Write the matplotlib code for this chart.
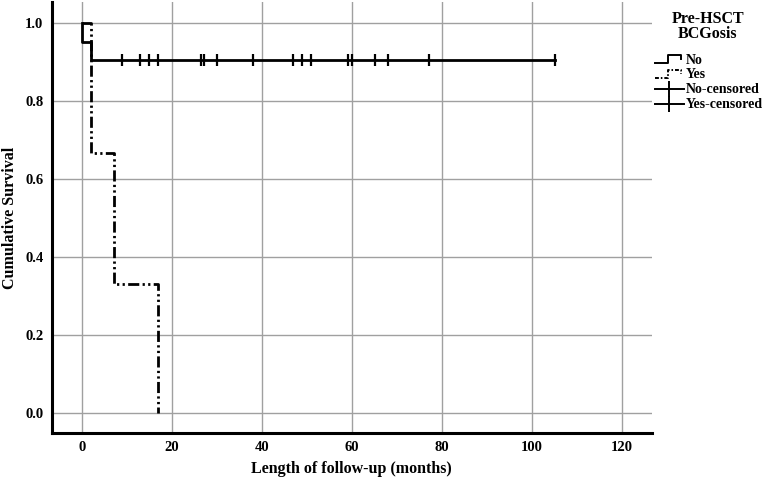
import matplotlib
matplotlib.use("Agg")
import matplotlib.pyplot as plt
import numpy as np
from matplotlib.legend_handler import HandlerBase
from matplotlib.lines import Line2D

plt.rcParams['font.family'] = ['Liberation Serif', 'DejaVu Serif']
plt.rcParams['font.weight'] = 'bold'

# Kaplan-Meier estimates
no_times = [0, 0, 2, 105.2]
no_surv = [1.0, 0.952, 0.905, 0.905]
no_censor = [9, 13, 15, 17, 26.4, 27.2, 30.1, 38, 47, 49, 51,
             59.1, 60.1, 65.2, 68.1, 77.1, 105.2]

yes_times = [0, 2, 7.2, 17]
yes_surv = [1.0, 0.667, 0.333, 0.0]

x_ticks = [0, 20, 40, 60, 80, 100, 120]
y_ticks = [0.0, 0.2, 0.4, 0.6, 0.8, 1.0]
legend_labels = ['No', 'Yes', 'No-censored', 'Yes-censored']

yes_dash = (4, 1.2, 0.8, 1.2, 0.8, 1.2)


class HandlerStep(HandlerBase):
    def __init__(self, dashes=None):
        super().__init__()
        self.dashes = dashes

    def create_artists(self, legend, orig_handle, xdescent, ydescent,
                       width, height, fontsize, trans):
        x = np.array([0, 0.45, 0.45, 0.9, 0.9]) * width - xdescent
        y = np.array([0.1, 0.1, 0.85, 0.85, 0.45]) * height - ydescent
        ln = Line2D(x, y, color='black', lw=1.4, transform=trans)
        if self.dashes is not None:
            ln.set_dashes((2, 1, 0.8, 1))
        return [ln]


fig = plt.figure(figsize=(7.62, 4.8), dpi=100)
ax = fig.add_axes([0.0678, 0.098, 0.7878, 0.898])

ax.step(no_times, no_surv, where='post', color='black', lw=2)
ax.step(yes_times, yes_surv, where='post', color='black', lw=2,
        dashes=yes_dash)
ax.plot(no_censor, [no_surv[-1]] * len(no_censor), linestyle='none',
        marker='|', ms=9, mew=1.6, color='black')

ax.set_xlim(-6.67, 126.7)
ax.set_ylim(-0.05, 1.055)
ax.set_xticks(x_ticks)
ax.set_yticks(y_ticks)
ax.set_yticklabels([f"{v:.1f}" for v in y_ticks])
ax.tick_params(length=0, labelsize=10.5, pad=6)
for lab in ax.get_xticklabels() + ax.get_yticklabels():
    lab.set_fontweight('bold')
ax.grid(True, color='#a0a0a0', lw=1)
ax.set_axisbelow(True)
for s in ['top', 'right']:
    ax.spines[s].set_visible(False)
for s in ['left', 'bottom']:
    ax.spines[s].set_linewidth(2.2)
    ax.spines[s].set_color('black')

ax.set_xlabel('Length of follow-up (months)', fontsize=11.5,
              fontweight='bold', labelpad=5)
ax.set_ylabel('Cumulative Survival', fontsize=11.5, fontweight='bold',
              labelpad=5)

fig.text(0.929, 0.978, 'Pre-HSCT\nBCGosis', ha='center', va='top',
         fontsize=11.5, fontweight='bold', linespacing=0.95)

h_no = Line2D([], [], color='black')
h_yes = Line2D([], [], color='black', ls='--')
h_nc = Line2D([0], [0], color='black', lw=1.4, marker='|', ms=12, mew=1.4)
h_yc = Line2D([0], [0], color='black', lw=1.4, marker='|', ms=12, mew=1.4)
leg = fig.legend([h_no, h_yes, h_nc, h_yc], legend_labels,
                 handler_map={h_no: HandlerStep(), h_yes: HandlerStep(True)},
                 loc='upper left', bbox_to_anchor=(0.852, 0.9),
                 frameon=False, borderaxespad=0,
                 handlelength=2.1, handletextpad=0.15, labelspacing=0.14,
                 prop={'size': 10, 'weight': 'bold'})

fig.savefig("out.png", dpi=100)
